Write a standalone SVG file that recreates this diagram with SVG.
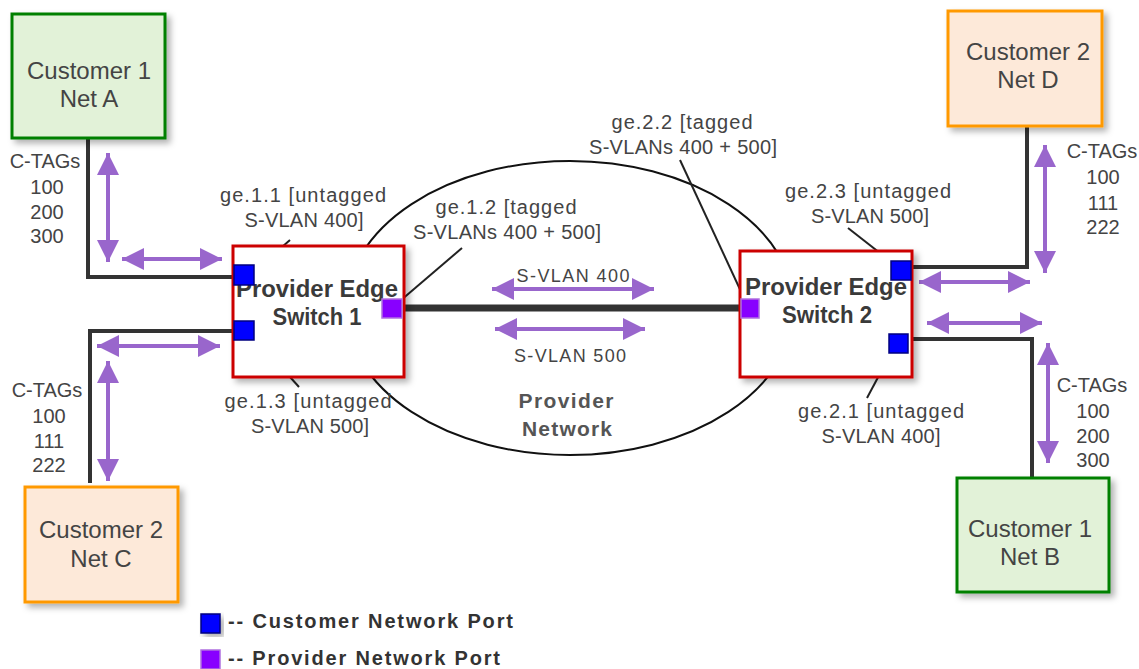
<svg xmlns="http://www.w3.org/2000/svg" width="1139" height="669" viewBox="0 0 1139 669">
<style>
.txt{font-family:"Liberation Sans",Arial,sans-serif;fill:#444;}
.node{font-size:24px;text-anchor:middle;}
.sw{font-size:23px;font-weight:bold;text-anchor:middle;fill:#3a3a3a;}
.lbl{font-size:20px;text-anchor:middle;}
.tag{font-size:20px;text-anchor:middle;}
.vlan{font-size:18px;text-anchor:middle;}
.pn{font-size:21px;font-weight:bold;text-anchor:middle;fill:#555;}
.leg{font-size:20px;font-weight:bold;fill:#333;}
.c1{fill:#e2f2d8;stroke:#008000;stroke-width:3;}
.c2{fill:#fde9d9;stroke:#ff9900;stroke-width:3;}
.swb{fill:#fff;stroke:#cc0000;stroke-width:3;}
.cp{fill:#0000ff;stroke:#000080;stroke-width:1.5;}
.pp{fill:#8800ff;stroke:#b070e0;stroke-width:1.5;}
.wire{fill:none;stroke:#333;stroke-width:4;stroke-linejoin:miter;}
.trunk{fill:none;stroke:#333;stroke-width:7;}
.lead{fill:none;stroke:#222;stroke-width:2;}
.arr{stroke:#9966cc;stroke-width:4;marker-start:url(#ah);marker-end:url(#ah);}
</style>
<defs>
<marker id="ah" viewBox="0 0 22 22" refX="22" refY="11" markerWidth="22" markerHeight="22" markerUnits="userSpaceOnUse" orient="auto-start-reverse">
<path d="M0,0 L22,11 L0,22 z" fill="#9966cc"/>
</marker>
<filter id="sh" x="-10%" y="-10%" width="130%" height="130%">
<feDropShadow dx="4" dy="4" stdDeviation="3" flood-color="#000" flood-opacity="0.3"/>
</filter>
</defs>
<rect width="1139" height="669" fill="#fff"/>

<g id="provider-network">
<ellipse cx="570" cy="308" rx="224" ry="147" fill="none" stroke="#111" stroke-width="2"/>
<text class="txt pn" x="566" y="408" textLength="95" lengthAdjust="spacing">Provider</text>
<text class="txt pn" x="567" y="436" textLength="90" lengthAdjust="spacing">Network</text>
</g>

<g id="connectors">
<path class="wire" d="M88,138 V277 H234"/>
<path class="wire" d="M90,483 V331 H234"/>
<path class="wire" d="M1027,126 V267 H911"/>
<path class="wire" d="M908,339 H1032 V478"/>
<path class="trunk" d="M402,308 H741"/>
<line class="lead" x1="290" y1="240" x2="258" y2="268"/>
<line class="lead" x1="255" y1="338" x2="299" y2="387"/>
<line class="lead" x1="462" y1="248" x2="400" y2="301"/>
<line class="lead" x1="680" y1="160" x2="744" y2="298"/>
<line class="lead" x1="848" y1="228" x2="894" y2="264"/>
<line class="lead" x1="867" y1="398" x2="892" y2="351"/>
<line class="arr" x1="108" y1="153" x2="108" y2="262"/>
<line class="arr" x1="122" y1="259" x2="222" y2="259"/>
<line class="arr" x1="97" y1="346" x2="220" y2="346"/>
<line class="arr" x1="108" y1="361" x2="108" y2="481"/>
<line class="arr" x1="492" y1="289" x2="654" y2="289"/>
<line class="arr" x1="495" y1="329" x2="645" y2="329"/>
<line class="arr" x1="1045" y1="145" x2="1045" y2="273"/>
<line class="arr" x1="919" y1="282" x2="1030" y2="282"/>
<line class="arr" x1="927" y1="323" x2="1042" y2="323"/>
<line class="arr" x1="1048" y1="343" x2="1048" y2="463"/>
</g>

<g id="net-a">
<rect class="c1" x="12" y="14" width="153" height="124" filter="url(#sh)"/>
<text class="txt node" x="89" y="79">Customer 1</text>
<text class="txt node" x="89" y="107">Net A</text>
</g>
<g id="net-c">
<rect class="c2" x="25" y="487" width="153" height="115" filter="url(#sh)"/>
<text class="txt node" x="101" y="538">Customer 2</text>
<text class="txt node" x="101" y="567">Net C</text>
</g>
<g id="net-d">
<rect class="c2" x="948" y="11" width="154" height="115" filter="url(#sh)"/>
<text class="txt node" x="1028" y="60">Customer 2</text>
<text class="txt node" x="1028" y="88">Net D</text>
</g>
<g id="net-b">
<rect class="c1" x="957" y="478" width="152" height="114" filter="url(#sh)"/>
<text class="txt node" x="1030" y="537">Customer 1</text>
<text class="txt node" x="1030" y="565">Net B</text>
</g>

<g id="switch-1">
<rect class="swb" x="233" y="246" width="171" height="131" filter="url(#sh)"/>
<text class="txt sw" x="317" y="297" textLength="162" lengthAdjust="spacingAndGlyphs">Provider Edge</text>
<text class="txt sw" x="317" y="325" textLength="89" lengthAdjust="spacingAndGlyphs">Switch 1</text>
<rect class="cp" x="234" y="265" width="20" height="20"/>
<rect class="cp" x="234" y="321" width="20" height="19"/>
<rect class="pp" x="382" y="299" width="20" height="19"/>
</g>
<g id="switch-2">
<rect class="swb" x="740" y="251" width="172" height="126" filter="url(#sh)"/>
<text class="txt sw" x="826" y="295" textLength="162" lengthAdjust="spacingAndGlyphs">Provider Edge</text>
<text class="txt sw" x="827" y="323" textLength="90" lengthAdjust="spacingAndGlyphs">Switch 2</text>
<rect class="pp" x="741" y="299" width="18" height="19"/>
<rect class="cp" x="891" y="261" width="20" height="19"/>
<rect class="cp" x="889" y="334" width="19" height="19"/>
</g>

<g id="port-labels">
<text class="txt lbl" x="303" y="202" textLength="166" lengthAdjust="spacing">ge.1.1 [untagged</text>
<text class="txt lbl" x="304" y="227" textLength="119" lengthAdjust="spacing">S-VLAN 400]</text>
<text class="txt lbl" x="308" y="408" textLength="167" lengthAdjust="spacing">ge.1.3 [untagged</text>
<text class="txt lbl" x="310" y="433" textLength="118" lengthAdjust="spacing">S-VLAN 500]</text>
<text class="txt lbl" x="506" y="214" textLength="141" lengthAdjust="spacing">ge.1.2 [tagged</text>
<text class="txt lbl" x="507" y="239" textLength="188" lengthAdjust="spacing">S-VLANs 400 + 500]</text>
<text class="txt lbl" x="682" y="129" textLength="141" lengthAdjust="spacing">ge.2.2 [tagged</text>
<text class="txt lbl" x="683" y="154" textLength="188" lengthAdjust="spacing">S-VLANs 400 + 500]</text>
<text class="txt lbl" x="868" y="198" textLength="166" lengthAdjust="spacing">ge.2.3 [untagged</text>
<text class="txt lbl" x="870" y="223" textLength="118" lengthAdjust="spacing">S-VLAN 500]</text>
<text class="txt lbl" x="881" y="418" textLength="166" lengthAdjust="spacing">ge.2.1 [untagged</text>
<text class="txt lbl" x="881" y="443" textLength="119" lengthAdjust="spacing">S-VLAN 400]</text>
<text class="txt vlan" x="573" y="282" textLength="113" lengthAdjust="spacing">S-VLAN 400</text>
<text class="txt vlan" x="570" y="362" textLength="112" lengthAdjust="spacing">S-VLAN 500</text>
</g>

<g id="ctags">
<text class="txt tag" x="45" y="168">C-TAGs</text>
<text class="txt tag" x="47" y="194">100</text>
<text class="txt tag" x="47" y="219">200</text>
<text class="txt tag" x="47" y="243">300</text>
<text class="txt tag" x="47" y="397">C-TAGs</text>
<text class="txt tag" x="49" y="423">100</text>
<text class="txt tag" x="49" y="448">111</text>
<text class="txt tag" x="49" y="472">222</text>
<text class="txt tag" x="1102" y="158">C-TAGs</text>
<text class="txt tag" x="1103" y="184">100</text>
<text class="txt tag" x="1103" y="210">111</text>
<text class="txt tag" x="1103" y="234">222</text>
<text class="txt tag" x="1092" y="392">C-TAGs</text>
<text class="txt tag" x="1093" y="418">100</text>
<text class="txt tag" x="1093" y="443">200</text>
<text class="txt tag" x="1093" y="467">300</text>
</g>

<g id="legend">
<rect class="cp" x="201" y="614" width="19" height="19" filter="url(#sh)"/>
<text class="txt leg" x="228" y="628" textLength="285" lengthAdjust="spacing">-- Customer Network Port</text>
<rect class="pp" x="201" y="650" width="19" height="19"/>
<text class="txt leg" x="228" y="665" textLength="272" lengthAdjust="spacing">-- Provider Network Port</text>
</g>
</svg>
